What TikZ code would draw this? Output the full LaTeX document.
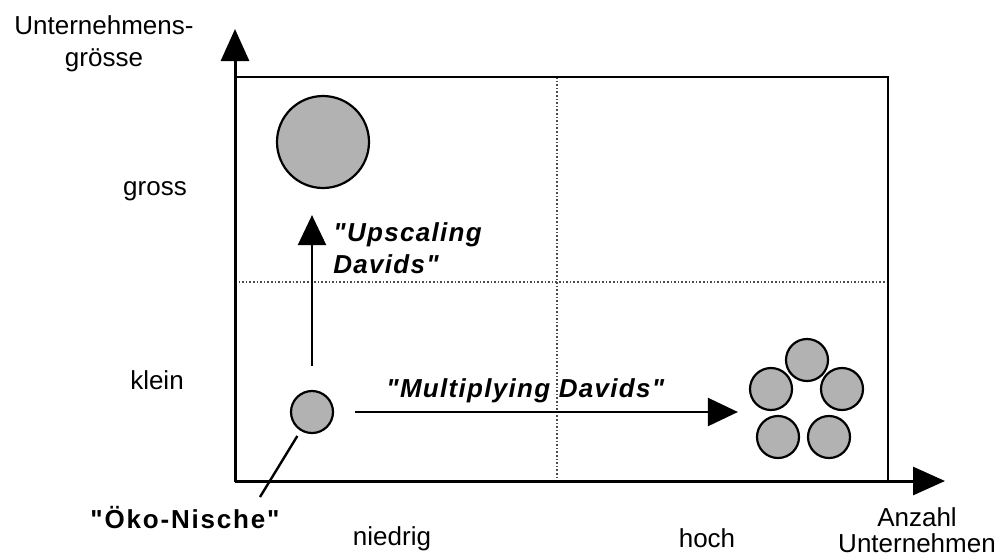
\documentclass[tikz,border=0pt]{standalone}
\usepackage{fontspec}
\setmainfont{Liberation Sans}[Ligatures=TeXOff]
\usetikzlibrary{arrows.meta, positioning}
\tikzstyle{label} = [font=\fontsize{13}{15}\selectfont, inner sep=0pt]
\tikzstyle{slogan} = [font=\fontsize{13}{16}\selectfont\bfseries\itshape\addfontfeature{LetterSpace=5}, inner sep=0pt]
\tikzstyle{bigdisc} = [circle, draw=black, line width=1.1pt, fill=black!30, minimum size=46pt, inner sep=0pt]
\tikzstyle{smalldisc} = [circle, draw=black, line width=1.1pt, fill=black!30, minimum size=21pt, inner sep=0pt]
\tikzstyle{axis} = [line width=1.5pt, -{Triangle[length=16pt,width=14pt]}]
\tikzstyle{arrow} = [line width=1.2pt, -{Triangle[length=15pt,width=14pt]}]
\tikzstyle{gridline} = [densely dotted, line width=0.8pt, black!70]

\begin{document}
\begin{tikzpicture}[x=0.5pt, y=-0.5pt]
\useasboundingbox (0,0) rectangle (1006,559);

\coordinate (origin) at (235,481);
\coordinate (ytip) at (235,29);
\coordinate (xtip) at (945,481);
\coordinate (corner) at (888,77);

% quadrants
\draw[gridline] (557,77) -- (557,481);
\draw[gridline] (235,282) -- (888,282);
\draw[line width=1pt] (origin) rectangle (corner);

% axes
\draw[axis] (origin) -- (ytip);
\draw[axis] (origin) -- (xtip);

\node (ylabel) [label, align=center] at (104,44) {Unternehmens-\\[1pt]grösse};
\node (xlabel) [label, align=center] at (917,530) {Anzahl\\[-2pt]Unternehmen};
\node (gross) [label, anchor=base] at (155,195) {gross};
\node (klein) [label, anchor=base] at (157,389) {klein};
\node (niedrig) [label, anchor=base] at (392,545) {niedrig};
\node (hoch) [label, anchor=base] at (707,547) {hoch};

% firms
\node (big) [bigdisc] at (323,142) {};
\node (small) [smalldisc] at (312,412) {};
\node (m1) [smalldisc] at (807,360) {};
\node (m2) [smalldisc] at (771,389) {};
\node (m3) [smalldisc] at (842,389) {};
\node (m4) [smalldisc] at (778,437) {};
\node (m5) [smalldisc] at (829,437) {};

\draw [arrow, shorten <=12pt, shorten >=13pt] (small) -- (small |- big.south);
\draw [arrow, shorten <=10.5pt, shorten >=5.5pt] (small) -- (small -| m2.west);

\node (upscaling) [slogan, anchor=base west, align=left] at (333,273) {"Upscaling\\Davids"};
\node (multiplying) [slogan, anchor=base west] at (386,397) {"Multiplying Davids"};

\node (oeko) [slogan, font=\fontsize{13}{16}\selectfont\bfseries\addfontfeature{LetterSpace=7}, anchor=base] at (185,528) {"Öko-Nische"};
\coordinate (oekoend) at (260,497);
\draw [line width=1.2pt, shorten <=3pt] (small) -- (oekoend);
\end{tikzpicture}
\end{document}
